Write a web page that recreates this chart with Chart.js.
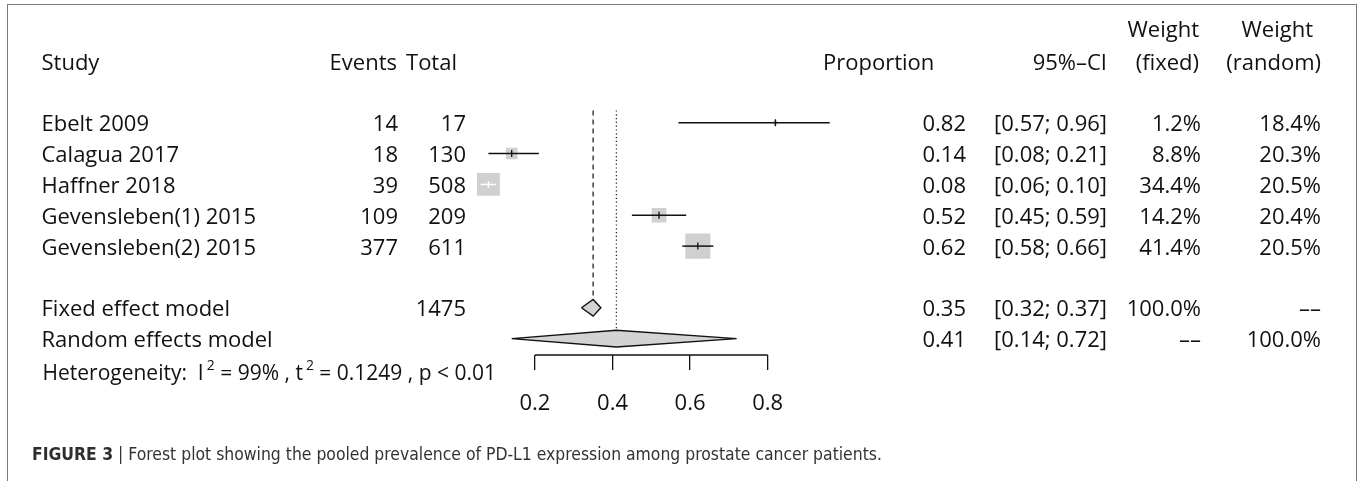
<!DOCTYPE html>
<html>
<head>
<meta charset="utf-8">
<script src="https://cdn.jsdelivr.net/npm/chart.js@4.4.1/dist/chart.umd.min.js"></script>
<style>
  html, body { margin: 0; padding: 0; background: #fff; }
  #wrap { position: relative; width: 1357px; height: 481px; overflow: hidden; font-family: 'Open Sans', sans-serif; color: #111; }
  #frame { position: absolute; left: 7px; top: 4px; width: 1350px; height: 520px; border: 1px solid #7a7a7a; box-sizing: border-box; }
  #chart { position: absolute; left: 0; top: 0; }
  .cell { position: absolute; white-space: pre; font-size: 22px; line-height: 30px; height: 30px; }
  .small { font-size: 21px; }
  .sup { font-size: 14px; position: relative; top: -10px; margin-left: 3px; }
  #caption { position: absolute; left: 32px; top: 443px; font-family: 'Liberation Sans Narrow', 'DejaVu Sans Condensed', 'Arial Narrow', sans-serif; font-size: 17.4px; line-height: 22px; color: #333; white-space: nowrap; }
  #caption b { color: #2e2e2e; }
</style>
</head>
<body>
<div id="wrap">
  <div id="frame"></div>
  <canvas id="chart" width="1357" height="481"></canvas>
  <div id="caption"><b>FIGURE 3</b> | Forest plot showing the pooled prevalence of PD-L1 expression among prostate cancer patients.</div>
</div>
<script>
// datos del forest plot
const studies = ['Ebelt 2009', 'Calagua 2017', 'Haffner 2018', 'Gevensleben(1) 2015', 'Gevensleben(2) 2015'];
const events = [14, 18, 39, 109, 377];
const totals = [17, 130, 508, 209, 611];
const props = [0.82, 0.14, 0.08, 0.52, 0.62];
const ciLow = [0.57, 0.08, 0.06, 0.45, 0.58];
const ciHigh = [0.96, 0.21, 0.10, 0.59, 0.66];
const wFixed = [1.2, 8.8, 34.4, 14.2, 41.4];
const wRandom = [18.4, 20.3, 20.5, 20.4, 20.5];
const fixedModel = [0.35, 0.32, 0.37];   // est, low, high
const randomModel = [0.41, 0.14, 0.72];
const totalN = 1475;
const xTicks = [0.2, 0.4, 0.6, 0.8];

const W = 1357;
const fixedRow = 6;
const randomRow = 7;
const diamondH = 0.27;

function squareSide(i) {
  return 3.9 * Math.sqrt(wFixed[i]);
}

function ciInside(chart, i) {
  const xs = chart.scales.x;
  return (xs.getPixelForValue(ciHigh[i]) - xs.getPixelForValue(ciLow[i])) <= squareSide(i);
}

function diamond(model, row) {
  const [est, lo, hi] = model;
  return [
    { x: lo, y: row }, { x: est, y: row - diamondH }, { x: hi, y: row },
    { x: est, y: row + diamondH }, { x: lo, y: row }
  ];
}

const base = { showLine: true, pointRadius: 0, tension: 0, clip: false, fill: false };

const datasets = [
  // lineas de referencia
  { ...base, data: [{ x: fixedModel[0], y: -0.4 }, { x: fixedModel[0], y: fixedRow - diamondH }],
    borderColor: '#222', borderWidth: 1.3, borderDash: [5, 4], order: 9 },
  { ...base, data: [{ x: randomModel[0], y: -0.4 }, { x: randomModel[0], y: randomRow - diamondH }],
    borderColor: '#222', borderWidth: 1.3, borderDash: [1.2, 2.6], order: 9 },
  // cuadrados por peso
  { type: 'scatter', data: props.map((p, i) => ({ x: p, y: i })), pointStyle: 'rect',
    pointRadius: ctx => squareSide(ctx.dataIndex) / (2 * Math.SQRT1_2),
    pointBackgroundColor: '#d0d0d0', pointBorderWidth: 0, order: 5 },
  // intervalos de confianza
  ...ciLow.map((lo, i) => ({ ...base, data: [{ x: lo, y: i }, { x: ciHigh[i], y: i }],
    borderColor: ctx => ciInside(ctx.chart, i) ? '#fff' : '#111', borderWidth: 1.5, order: 3 })),
  // marca del estimador
  { type: 'scatter', data: props.map((p, i) => ({ x: p, y: i })), pointStyle: 'line', rotation: 90,
    pointRadius: 3.5, pointBorderWidth: 1.3,
    pointBorderColor: ctx => ciInside(ctx.chart, ctx.dataIndex) ? '#fff' : '#111', order: 1 },
  // diamantes
  { ...base, data: diamond(fixedModel, fixedRow), fill: 'shape', backgroundColor: '#d3d3d3',
    borderColor: '#111', borderWidth: 1.4, order: 2 },
  { ...base, data: diamond(randomModel, randomRow), fill: 'shape', backgroundColor: '#d3d3d3',
    borderColor: '#111', borderWidth: 1.4, order: 2 },
  // eje
  { ...base, data: [{ x: xTicks[0], y: 7.53 }, { x: xTicks[xTicks.length - 1], y: 7.53 }],
    borderColor: '#111', borderWidth: 1.3, order: 0 }
];

Chart.defaults.font.family = "'Open Sans', sans-serif";

const chart = new Chart(document.getElementById('chart'), {
  type: 'scatter',
  data: { datasets },
  options: {
    responsive: false,
    animation: false,
    devicePixelRatio: 1,
    events: [],
    layout: { padding: { left: 457.4, right: 511.8, top: 107.3, bottom: 0 } },
    plugins: { legend: { display: false }, tooltip: { enabled: false } },
    scales: {
      x: {
        type: 'linear', min: 0, max: 1,
        afterBuildTicks: scale => { scale.ticks = xTicks.map(v => ({ value: v })); },
        afterFit: scale => { scale.height = 126; },
        border: { display: false },
        grid: { drawOnChartArea: false, drawTicks: true, tickLength: 15, color: '#111', lineWidth: 1.3 },
        ticks: { color: '#111', font: { size: 22 }, padding: 21, autoSkip: false, maxRotation: 0,
          callback: v => Number(v).toFixed(1) }
      },
      y: { type: 'linear', display: false, reverse: true, min: -0.5, max: 7.53 }
    }
  }
});

// texto de la tabla, alineado con las filas del eje y
const wrap = document.getElementById('wrap');
const yScale = chart.scales.y;

function addText(html, x, row, align, extra) {
  const d = document.createElement('div');
  d.className = 'cell' + (extra ? ' ' + extra : '');
  d.innerHTML = html;
  d.style.top = (yScale.getPixelForValue(row) - 15.5) + 'px';
  if (align === 'right') d.style.right = (W - x) + 'px';
  else d.style.left = x + 'px';
  wrap.appendChild(d);
}

const colStudy = 41.5, colEvents = 398, colTotal = 466, colProp = 966, colCI = 1107,
  colWF = 1201, colWR = 1321;

// encabezados
addText('Study', colStudy, -2, 'left');
addText('Events', 397, -2, 'right');
addText('Total', 457, -2, 'right');
addText('Proportion', 823, -2, 'left');
addText('95%–CI', colCI, -2, 'right');
addText('Weight', 1199, -3.05, 'right');
addText('(fixed)', 1199, -2, 'right');
addText('Weight', 1313, -3.05, 'right');
addText('(random)', colWR, -2, 'right');

const fmtCI = (lo, hi) => `[${lo.toFixed(2)}; ${hi.toFixed(2)}]`;

studies.forEach((s, i) => {
  addText(s, colStudy, i, 'left');
  addText(String(events[i]), colEvents, i, 'right');
  addText(String(totals[i]), colTotal, i, 'right');
  addText(props[i].toFixed(2), colProp, i, 'right');
  addText(fmtCI(ciLow[i], ciHigh[i]), colCI, i, 'right');
  addText(wFixed[i].toFixed(1) + '%', colWF, i, 'right');
  addText(wRandom[i].toFixed(1) + '%', colWR, i, 'right');
});

addText('Fixed effect model', colStudy, fixedRow, 'left');
addText(String(totalN), colTotal, fixedRow, 'right');
addText(fixedModel[0].toFixed(2), colProp, fixedRow, 'right');
addText(fmtCI(fixedModel[1], fixedModel[2]), colCI, fixedRow, 'right');
addText('100.0%', colWF, fixedRow, 'right');
addText('––', colWR, fixedRow, 'right');

addText('Random effects model', colStudy, randomRow, 'left');
addText(randomModel[0].toFixed(2), colProp, randomRow, 'right');
addText(fmtCI(randomModel[1], randomModel[2]), colCI, randomRow, 'right');
addText('––', colWF, randomRow, 'right');
addText('100.0%', colWR, randomRow, 'right');

addText('Heterogeneity:  I<span class="sup">2</span> = 99% , t<span class="sup">2</span> = 0.1249 , p &lt; 0.01',
  42.5, 8.1, 'left', 'small');
</script>
</body>
</html>
